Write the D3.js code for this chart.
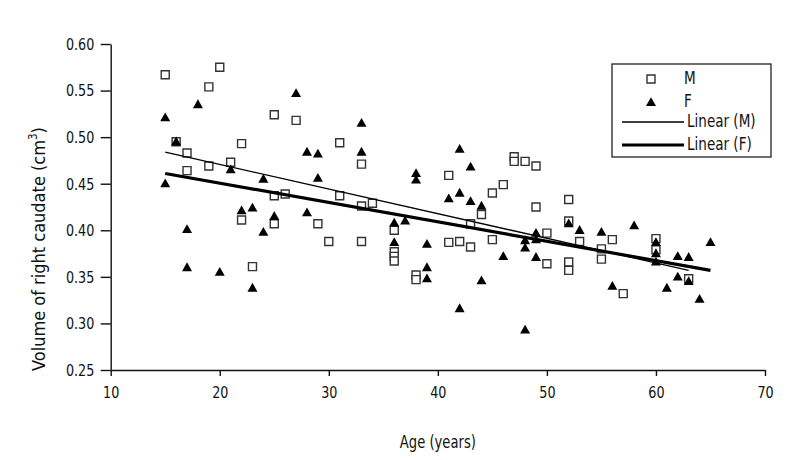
<!DOCTYPE html>
<html><head><meta charset="utf-8">
<script src="https://cdn.jsdelivr.net/npm/d3@7"></script>
<style>
body{margin:0;background:#fff}
text{font-family:"Liberation Sans Narrow","DejaVu Sans Condensed","Arial Narrow",sans-serif;fill:#111}
</style>
</head><body>
<svg id="c" width="800" height="460"></svg>
<script>
// ---- data ----
const maleAge = [15,20,19,25,27,16,22,17,19,21,17,25,26,22,25,23,31,33,31,33,34,29,30,33,36,36,36,36,38,38,41,41,42,43,43,47,47,48,49,46,45,44,49,52,52,50,56,45,53,55,55,50,52,52,57,60,60,63];
const maleVol = [0.567,0.575,0.554,0.524,0.518,0.495,0.493,0.483,0.469,0.473,0.464,0.437,0.439,0.411,0.407,0.361,0.494,0.471,0.437,0.426,0.429,0.407,0.388,0.388,0.400,0.377,0.372,0.367,0.352,0.347,0.459,0.387,0.388,0.382,0.407,0.479,0.474,0.474,0.469,0.449,0.440,0.417,0.425,0.433,0.410,0.397,0.390,0.390,0.388,0.380,0.369,0.364,0.366,0.357,0.332,0.391,0.379,0.348];
const femaleAge = [18,15,27,16,28,21,15,24,22,23,25,28,24,17,17,20,23,33,29,33,29,38,38,42,43,41,42,43,36,37,36,39,39,39,42,44,52,49,49,48,48,53,55,46,49,44,56,48,58,60,60,60,62,63,65,62,63,61,64];
const femaleVol = [0.535,0.521,0.547,0.495,0.484,0.465,0.450,0.455,0.421,0.424,0.415,0.419,0.398,0.401,0.360,0.355,0.338,0.515,0.482,0.484,0.456,0.461,0.454,0.487,0.468,0.434,0.440,0.431,0.408,0.410,0.387,0.385,0.360,0.348,0.316,0.426,0.407,0.397,0.390,0.389,0.381,0.400,0.398,0.372,0.371,0.346,0.340,0.293,0.405,0.387,0.375,0.366,0.372,0.371,0.387,0.350,0.345,0.338,0.326];
// trendline end points (age, volume)
const trendMAge = [15, 63];
const trendMVol = [0.484, 0.357];
const trendFAge = [15, 65];
const trendFVol = [0.461, 0.357];
const xTicks = [10,20,30,40,50,60,70];
const yTicks = [0.25,0.30,0.35,0.40,0.45,0.50,0.55,0.60];
const xTitle = "Age (years)";
const legendLabels = ["M","F","Linear (M)","Linear (F)"];

// ---- drawing ----
const svg = d3.select("#c");
const x = d3.scaleLinear().domain([10,70]).range([110.7,765]);
const y = d3.scaleLinear().domain([0.25,0.60]).range([370,44]);
const FS = 16.5, SX = 0.86;

const xa = svg.append("g").attr("transform","translate(0,"+y(0.25)+")")
  .call(d3.axisBottom(x).tickValues(xTicks).tickSize(6).tickSizeOuter(0).tickPadding(6).tickFormat(d3.format("d")));
const ya = svg.append("g").attr("transform","translate("+x(10)+",0)")
  .call(d3.axisLeft(y).tickValues(yTicks).tickSize(10).tickSizeOuter(0).tickPadding(5).tickFormat(d3.format(".2f")));
[xa,ya].forEach(a=>{
  a.selectAll("path,line").attr("stroke","#111").attr("stroke-width",1.4);
  a.selectAll("text").attr("font-size",FS).attr("fill","#111")
   .style("font-family",'"Liberation Sans Narrow","DejaVu Sans Condensed",sans-serif')
   .attr("transform",`scale(${SX},1)`);
});
xa.selectAll("text").attr("dy","0.95em");
ya.selectAll("text").attr("x",-16.4/SX);

svg.append("text").attr("transform",`translate(${(x(10)+x(70))/2},443) scale(${SX},1)`)
  .attr("text-anchor","middle").attr("dominant-baseline","middle").attr("font-size",17).text(xTitle);
const yt = svg.append("text").attr("transform","translate(40,249) rotate(-90)")
  .attr("text-anchor","middle").attr("dominant-baseline","middle").attr("font-size",18);
yt.append("tspan").text("Volume of right caudate (cm");
yt.append("tspan").attr("font-size",11.5).attr("dy","-0.6em").text("3");
yt.append("tspan").attr("dy","0.4em").text(")");

const tri = "M0,-5.2L5,3.6L-5,3.6Z";
const sq = "M-4,-4H4V4H-4Z";
const male = maleAge.map((a,i)=>({a, v:maleVol[i]}));
const female = femaleAge.map((a,i)=>({a, v:femaleVol[i]}));

svg.append("g").selectAll("path").data(male).join("path")
  .attr("d",sq).attr("transform",d=>`translate(${x(d.a)},${y(d.v)})`)
  .attr("fill","#fff").attr("stroke","#333").attr("stroke-width",1.4);
svg.append("g").selectAll("path").data(female).join("path")
  .attr("d",tri).attr("transform",d=>`translate(${x(d.a)},${y(d.v)})`)
  .attr("fill","#000");

const line = d3.line().x(d=>x(d[0])).y(d=>y(d[1]));
svg.append("path").attr("d",line(trendMAge.map((a,i)=>[a,trendMVol[i]])))
  .attr("fill","none").attr("stroke","#000").attr("stroke-width",1.3);
svg.append("path").attr("d",line(trendFAge.map((a,i)=>[a,trendFVol[i]])))
  .attr("fill","none").attr("stroke","#000").attr("stroke-width",3.2);

// legend
const lg = svg.append("g");
lg.append("rect").attr("x",612).attr("y",64).attr("width",159).attr("height",93)
  .attr("fill","#fff").attr("stroke","#222").attr("stroke-width",1.3);
const rowsY = [79,102.5,122,145];
lg.append("path").attr("d",sq).attr("transform",`translate(651,${rowsY[0]})`)
  .attr("fill","#fff").attr("stroke","#333").attr("stroke-width",1.4);
lg.append("path").attr("d",tri).attr("transform",`translate(651,${rowsY[1]})`).attr("fill","#000");
lg.append("line").attr("x1",622).attr("x2",684).attr("y1",rowsY[2]).attr("y2",rowsY[2])
  .attr("stroke","#000").attr("stroke-width",1.3);
lg.append("line").attr("x1",622).attr("x2",684).attr("y1",rowsY[3]).attr("y2",rowsY[3])
  .attr("stroke","#000").attr("stroke-width",3.2);
legendLabels.forEach((t,i)=>{
  lg.append("text").attr("transform",`translate(${i<2?684:687},${rowsY[i]}) scale(${SX},1)`)
    .attr("dominant-baseline","middle").attr("font-size",17.5).text(t);
});
</script>
</body></html>
